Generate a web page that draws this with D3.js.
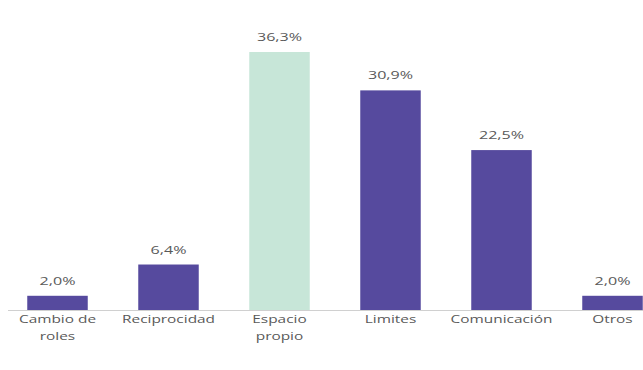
<!DOCTYPE html>
<html>
<head>
<meta charset="utf-8">
<script src="https://cdn.jsdelivr.net/npm/d3@7"></script>
<style>
  html, body { margin: 0; padding: 0; background: #fff; }
  svg { display: block; }
  text { font-family: "Open Sans", sans-serif; fill: #595959; }
</style>
</head>
<body>
<svg id="chart" width="643" height="370"></svg>
<script>
// Categories (each label split into display lines) and percentage values
const categories = ["Cambio de roles", "Reciprocidad", "Espacio propio", "Limites", "Comunicación", "Otros"];
const categoryLines = [["Cambio de", "roles"], ["Reciprocidad"], ["Espacio", "propio"], ["Limites"], ["Comunicación"], ["Otros"]];
const values = [2.0, 6.4, 36.3, 30.9, 22.5, 2.0];
const highlighted = ["Espacio propio"];

const svg = d3.select("#chart");
const baseline = 310;
const stretch = 1.4; // horizontal widening of the lettering

const x = d3.scaleBand()
  .domain(categories)
  .range([2, 668])
  .paddingInner(0.455)
  .paddingOuter(0.2275);

const y = d3.scaleLinear()
  .domain([0, 36.3])
  .range([baseline, 52]);

const fmt = v => d3.format(".1f")(v).replace(".", ",") + "%";
const cx = d => x(d) + x.bandwidth() / 2;

// Bars
svg.append("g").selectAll("rect")
  .data(categories)
  .join("rect")
  .attr("x", d => x(d))
  .attr("width", x.bandwidth())
  .attr("y", (d, i) => y(values[i]))
  .attr("height", (d, i) => baseline - y(values[i]))
  .attr("fill", d => highlighted.includes(d) ? "#c7e6d8" : "#564a9e");

// Baseline axis
svg.append("line")
  .attr("x1", 8).attr("x2", 643)
  .attr("y1", baseline + 0.5).attr("y2", baseline + 0.5)
  .attr("stroke", "#d0d0d0").attr("stroke-width", 1);

// Value labels
svg.append("g").selectAll("text")
  .data(categories)
  .join("text")
  .attr("transform", (d, i) => `translate(${cx(d)},${y(values[i]) - 11}) scale(${stretch},1)`)
  .attr("text-anchor", "middle")
  .attr("font-size", 11.5)
  .text((d, i) => fmt(values[i]));

// Category labels
const cat = svg.append("g").selectAll("text")
  .data(categories)
  .join("text")
  .attr("transform", d => `translate(${cx(d)},${baseline + 13}) scale(${stretch},1)`)
  .attr("text-anchor", "middle")
  .attr("font-size", 11);
cat.selectAll("tspan")
  .data((d, i) => categoryLines[i])
  .join("tspan")
  .attr("x", 0)
  .attr("dy", (d, j) => j === 0 ? 0 : 17)
  .text(d => d);
</script>
</body>
</html>
